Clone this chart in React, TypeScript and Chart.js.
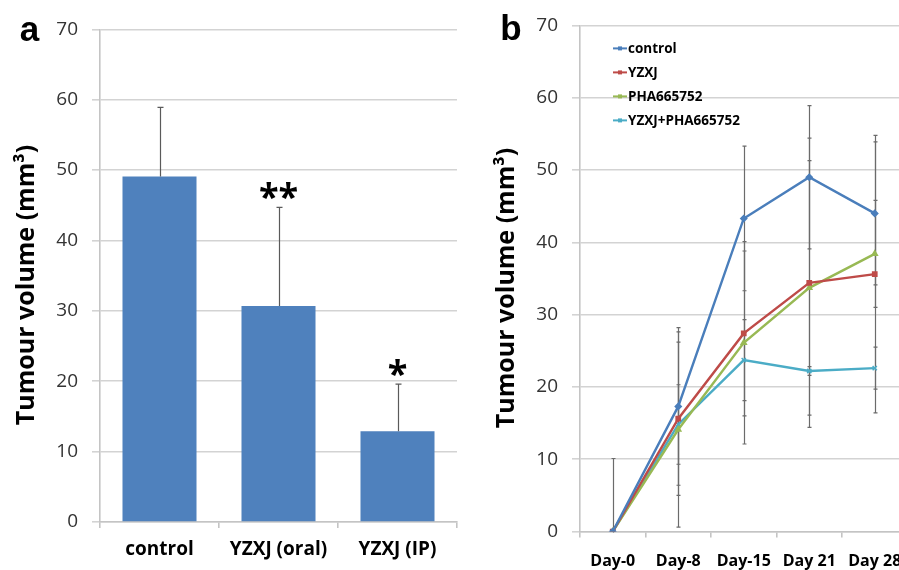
import React, { useEffect, useRef } from 'react';
import { Chart, registerables } from 'chart.js';

Chart.register(...registerables);

// ---------- Panel a data ----------
const groupLabels = ['control', 'YZXJ (oral)', 'YZXJ (IP)'];
const groupMeans = [49.1, 30.7, 12.9];
const groupErrors = [9.8, 14.0, 6.7];
const groupStars = ['', '**', '*'];

// ---------- Panel b data ----------
const dayLabels = ['Day-0', 'Day-8', 'Day-15', 'Day 21', 'Day 28'];
const seriesNames = ['control', 'YZXJ', 'PHA665752', 'YZXJ+PHA665752'];
const controlValues = [0, 17.3, 43.3, 49.0, 44.0];
const yzxjValues = [0, 15.6, 27.4, 34.4, 35.6];
const phaValues = [0, 14.1, 26.1, 33.7, 38.4];
const comboValues = [0, 14.8, 23.7, 22.2, 22.6];
const controlErrors = [10.1, 10.9, 10.0, 9.9, 9.9];
const yzxjErrors = [0, 10.6, 11.4, 20.0, 19.2];
const phaErrors = [0, 13.5, 14.0, 17.6, 7.4];
const comboErrors = [0, 5.5, 5.6, 0.6, 2.9];

const axisMin = 0;
const axisMax = 70;
const axisStep = 10;
const yTitle = 'Tumour volume (mm³)';

const FONT = "'Open Sans', sans-serif";
const seriesColors = ['#4A7EBB', '#BE4B48', '#98B954', '#4BACC6'];
const seriesStyles = ['rectRot', 'rect', 'triangle', 'crossRot'];

function drawYTitle(ctx: CanvasRenderingContext2D, cx: number, cy: number) {
  ctx.save();
  ctx.translate(cx, cy);
  ctx.rotate(-Math.PI / 2);
  ctx.font = `bold 25px ${FONT}`;
  ctx.fillStyle = '#000';
  ctx.textAlign = 'center';
  ctx.textBaseline = 'middle';
  ctx.fillText(yTitle, 0, 0);
  ctx.restore();
}

function drawLetter(ctx: CanvasRenderingContext2D, letter: string, x: number, y: number) {
  ctx.save();
  ctx.font = `bold 35px 'Liberation Sans', Arial, sans-serif`;
  ctx.fillStyle = '#000';
  ctx.textAlign = 'center';
  ctx.textBaseline = 'alphabetic';
  ctx.fillText(letter, x, y);
  ctx.restore();
}

const panelAPlugin = {
  id: 'panelA',
  afterDatasetsDraw(chart: any) {
    const { ctx } = chart;
    const y = chart.scales.y;
    const meta = chart.getDatasetMeta(0);
    ctx.save();
    ctx.strokeStyle = '#5a5a5a';
    ctx.lineWidth = 1.2;
    meta.data.forEach((bar: any, i: number) => {
      const x = Math.round(bar.x) + 0.5;
      const top = y.getPixelForValue(groupMeans[i] + groupErrors[i]);
      const base = y.getPixelForValue(groupMeans[i]);
      ctx.beginPath();
      ctx.moveTo(x, base);
      ctx.lineTo(x, top);
      ctx.moveTo(x - 3, top);
      ctx.lineTo(x + 3, top);
      ctx.stroke();
      if (groupStars[i]) {
        ctx.font = `bold 36px ${FONT}`;
        ctx.fillStyle = '#000';
        ctx.textAlign = 'center';
        ctx.textBaseline = 'alphabetic';
        ctx.fillText(groupStars[i], bar.x, top + 2);
      }
    });
    ctx.restore();
  },
  afterDraw(chart: any) {
    drawYTitle(chart.ctx, 26.5, 285);
    drawLetter(chart.ctx, 'a', 29.5, 41);
  },
};

const lineSeries = [controlValues, yzxjValues, phaValues, comboValues];
const lineErrors = [controlErrors, yzxjErrors, phaErrors, comboErrors];

const panelBPlugin = {
  id: 'panelB',
  beforeDatasetsDraw(chart: any) {
    const { ctx, chartArea } = chart;
    const y = chart.scales.y;
    ctx.save();
    ctx.beginPath();
    ctx.rect(chartArea.left, chartArea.top, chartArea.right - chartArea.left, chartArea.bottom - chartArea.top + 1);
    ctx.clip();
    ctx.strokeStyle = '#6b6b6b';
    ctx.lineWidth = 1.2;
    lineSeries.forEach((vals, si) => {
      const meta = chart.getDatasetMeta(si);
      vals.forEach((v, i) => {
        const e = lineErrors[si][i];
        if (!e) return;
        const x = Math.round(meta.data[i].x) + 0.5;
        const hi = y.getPixelForValue(v + e);
        const lo = y.getPixelForValue(v - e);
        ctx.beginPath();
        ctx.moveTo(x, lo);
        ctx.lineTo(x, hi);
        ctx.moveTo(x - 2, hi);
        ctx.lineTo(x + 2, hi);
        ctx.moveTo(x - 2, lo);
        ctx.lineTo(x + 2, lo);
        ctx.stroke();
      });
    });
    ctx.restore();
  },
  afterDraw(chart: any) {
    const { ctx, chartArea } = chart;
    drawYTitle(ctx, 26.5, 288);
    drawLetter(ctx, 'b', 31, 40);
    ctx.save();
    seriesNames.forEach((name, i) => {
      const cy = chartArea.top + 23 + i * 24;
      const x0 = chartArea.left + 33;
      ctx.strokeStyle = seriesColors[i];
      ctx.lineWidth = 2;
      ctx.beginPath();
      ctx.moveTo(x0, cy);
      ctx.lineTo(x0 + 14, cy);
      ctx.stroke();
      ctx.fillStyle = seriesColors[i];
      ctx.fillRect(x0 + 5, cy - 2, 4, 4);
      ctx.font = `bold 13.5px ${FONT}`;
      ctx.fillStyle = '#000';
      ctx.textAlign = 'left';
      ctx.textBaseline = 'middle';
      ctx.fillText(name, x0 + 15, cy + 1);
    });
    ctx.restore();
  },
};

function yAxis(width: number) {
  return {
    min: axisMin,
    max: axisMax,
    afterFit: (s: any) => {
      s.width = width;
    },
    ticks: {
      stepSize: axisStep,
      font: { family: FONT, size: 19 },
      color: '#333',
      padding: 14,
    },
    grid: { color: '#d3d3d3', lineWidth: 1.6, tickLength: 8, drawTicks: true },
    border: { color: '#c4c4c4', width: 1.6 },
    title: { display: false },
  };
}

export default function App() {
  const aRef = useRef<HTMLCanvasElement>(null);
  const bRef = useRef<HTMLCanvasElement>(null);

  useEffect(() => {
    const chartA = new Chart(aRef.current as HTMLCanvasElement, {
      type: 'bar',
      data: {
        labels: groupLabels,
        datasets: [
          {
            data: groupMeans,
            backgroundColor: '#4F81BD',
            borderWidth: 0,
            barPercentage: 0.622,
            categoryPercentage: 1,
          },
        ],
      },
      options: {
        responsive: false,
        animation: false,
        devicePixelRatio: 1,
        layout: { padding: { top: 29.3, right: 13, bottom: 0, left: 0 } },
        plugins: { legend: { display: false }, tooltip: { enabled: false } },
        scales: {
          x: {
            afterFit: (s: any) => {
              s.height = 48;
            },
            offset: true,
            grid: { offset: true, drawOnChartArea: false, tickLength: 6, color: '#c4c4c4', lineWidth: 1.6 },
            border: { color: '#c4c4c4', width: 1.6 },
            ticks: { font: { family: FONT, size: 19, weight: 'bold' }, color: '#000', padding: 10.6 },
          },
          y: yAxis(100) as any,
        },
      },
      plugins: [panelAPlugin],
    } as any);

    const chartB = new Chart(bRef.current as HTMLCanvasElement, {
      type: 'line',
      data: {
        labels: dayLabels,
        datasets: lineSeries.map((vals, i) => ({
          label: seriesNames[i],
          data: vals,
          borderColor: seriesColors[i],
          backgroundColor: seriesColors[i],
          borderWidth: 2.4,
          pointStyle: seriesStyles[i],
          pointRadius: 3,
          pointBorderWidth: 1.5,
          tension: 0,
          fill: false,
        })),
      },
      options: {
        responsive: false,
        animation: false,
        devicePixelRatio: 1,
        layout: { padding: { top: 22, right: 12.5, bottom: 0, left: 0 } },
        plugins: { legend: { display: false }, tooltip: { enabled: false } },
        scales: {
          x: {
            afterFit: (s: any) => {
              s.height = 38.5;
            },
            offset: true,
            grid: { offset: true, drawOnChartArea: false, tickLength: 6, color: '#c4c4c4', lineWidth: 1.6 },
            border: { color: '#c4c4c4', width: 1.6 },
            ticks: { font: { family: FONT, size: 16, weight: 'bold' }, color: '#000', padding: 14.4 },
          },
          y: yAxis(100) as any,
        },
      },
      plugins: [panelBPlugin],
    } as any);

    return () => {
      chartA.destroy();
      chartB.destroy();
    };
  }, []);

  return (
    <div
      style={{
        position: 'fixed',
        left: 0,
        top: 0,
        width: 899,
        height: 570,
        overflow: 'hidden',
        background: '#fff',
      }}
    >
      <canvas
        ref={aRef}
        width={470}
        height={570}
        style={{ position: 'absolute', left: 0, top: 0, width: 470, height: 570 }}
      />
      <canvas
        ref={bRef}
        width={440}
        height={570}
        style={{ position: 'absolute', left: 480, top: 0, width: 440, height: 570 }}
      />
    </div>
  );
}
